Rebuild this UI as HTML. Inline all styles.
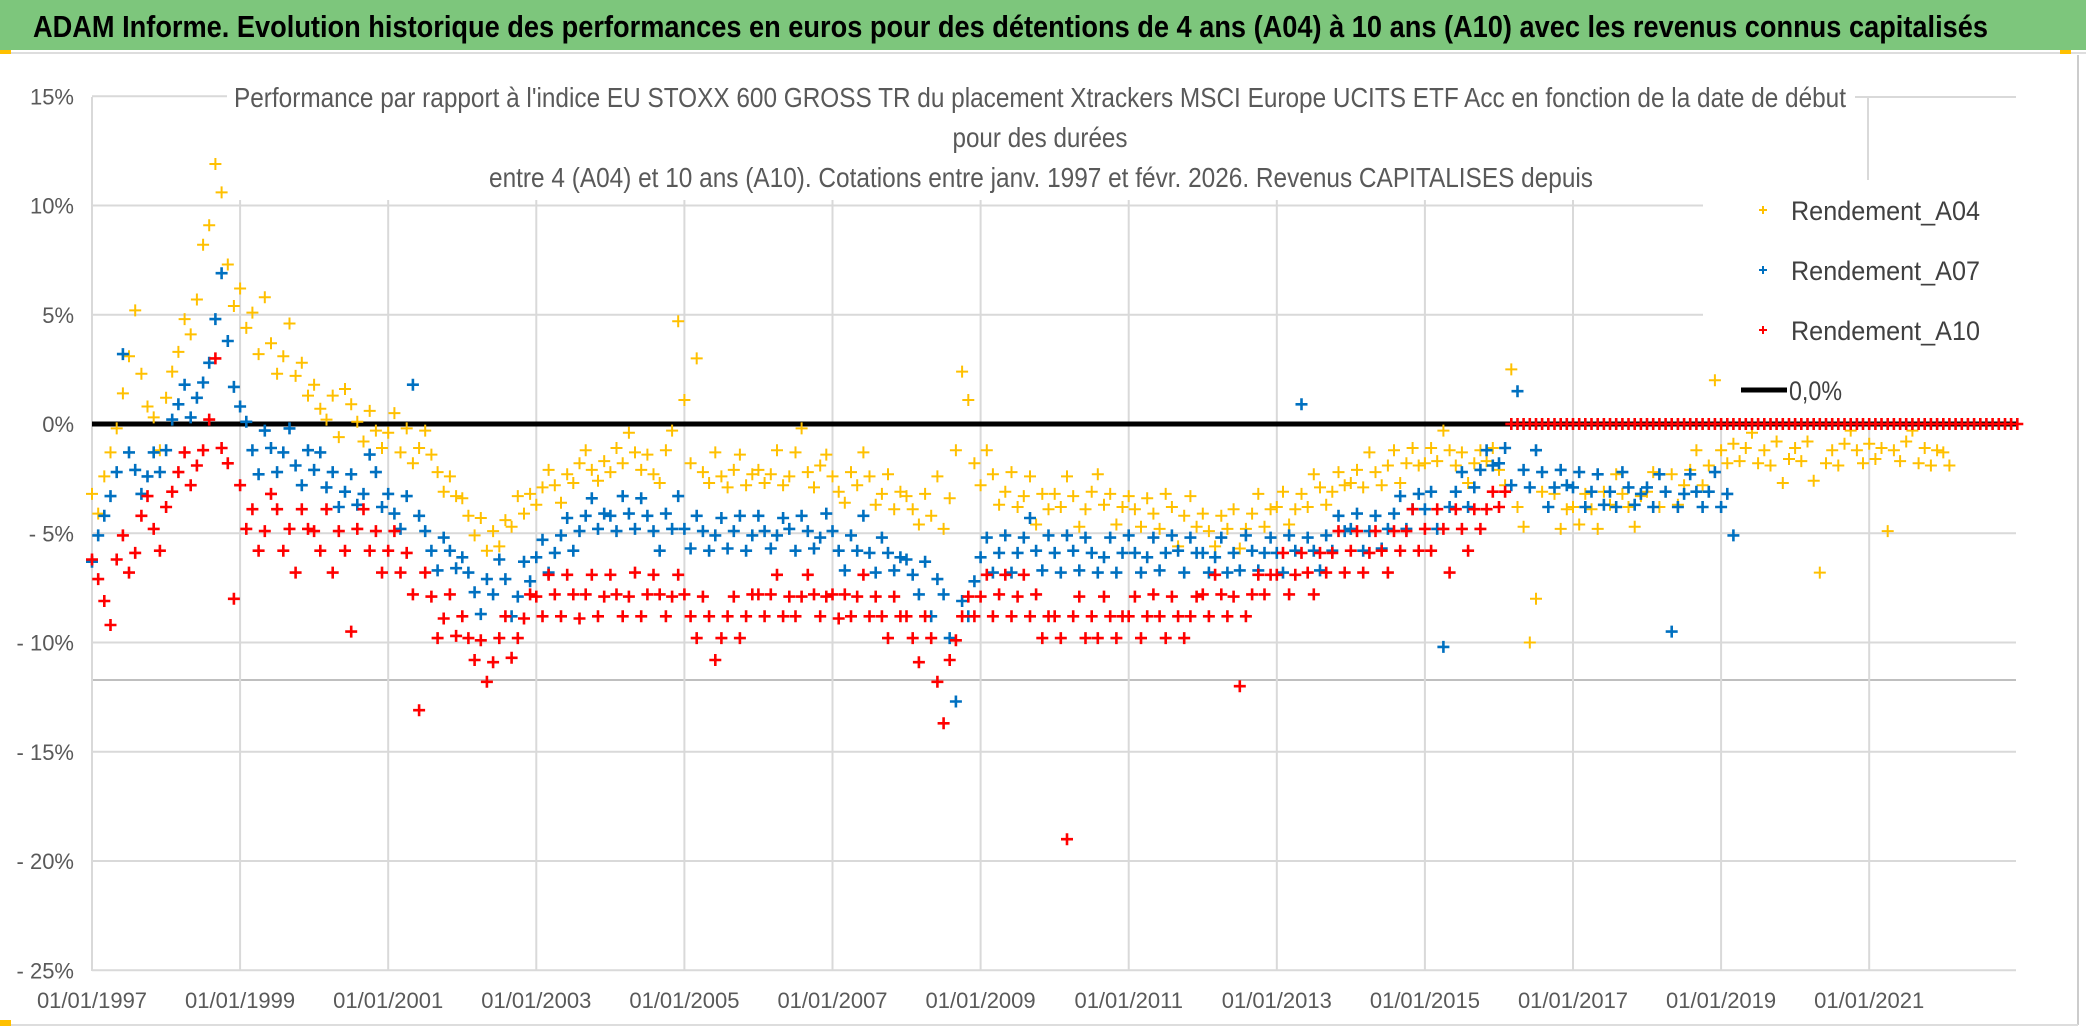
<!DOCTYPE html>
<html><head><meta charset="utf-8">
<style>
html,body{margin:0;padding:0;background:#fff;}
body{width:2086px;height:1031px;overflow:hidden;position:relative;font-family:"Liberation Sans Narrow","Liberation Sans",sans-serif;}
</style></head>
<body>
<svg id="chart" width="2086" height="1031" viewBox="0 0 2086 1031" xmlns="http://www.w3.org/2000/svg" style="position:absolute;left:0;top:0">
  <rect x="0" y="0" width="2086" height="1031" fill="#fff"/>
  <rect x="0" y="0" width="2086" height="50" fill="#7dc67c"/>
  <line x1="0" y1="53" x2="2086" y2="53" stroke="#ddd" stroke-width="2"/>
  <rect x="0" y="50" width="11" height="4" fill="#ffc000"/>
  <rect x="2060" y="50" width="11" height="4" fill="#ffc000"/>
  <text x="33" y="37" font-size="31" font-weight="bold" fill="#000" textLength="1955" lengthAdjust="spacingAndGlyphs">ADAM Informe. Evolution historique des performances en euros pour des détentions de 4 ans (A04) à 10 ans (A10) avec les revenus connus capitalisés</text>
  <line x1="2078" y1="55" x2="2078" y2="1025" stroke="#ccc" stroke-width="2"/>
  <line x1="0" y1="1025" x2="2078" y2="1025" stroke="#ddd" stroke-width="2"/>
  <rect x="0" y="1020" width="11" height="6" fill="#ffc000"/>
  <g id="grid"></g>
  <g id="marks"></g>
  <g id="title-group" fill="#595959" font-size="28" text-anchor="middle">
    <text x="1040" y="107" textLength="1612" lengthAdjust="spacingAndGlyphs">Performance par rapport à l'indice EU STOXX 600 GROSS TR  du placement Xtrackers MSCI Europe UCITS ETF Acc en fonction de la date de début</text>
    <text x="1040" y="147" textLength="175" lengthAdjust="spacingAndGlyphs">pour des durées</text>
    <text x="1041" y="187" textLength="1104" lengthAdjust="spacingAndGlyphs">entre 4 (A04) et 10 ans (A10). Cotations entre janv. 1997 et févr. 2026. Revenus CAPITALISES depuis</text>
  </g>
  <g id="legend"></g>
</svg>
<script>
const xTickLabels = ["01/01/1997","01/01/1999","01/01/2001","01/01/2003","01/01/2005","01/01/2007","01/01/2009","01/01/2011","01/01/2013","01/01/2015","01/01/2017","01/01/2019","01/01/2021"];
const xTickYears = [1997,1999,2001,2003,2005,2007,2009,2011,2013,2015,2017,2019,2021];
const yTicks = [15,10,5,0,-5,-10,-15,-20,-25];
const yTickLabels = ["15%","10%","5%","0%","- 5%","- 10%","- 15%","- 20%","- 25%"];
const startYear = 1997; // monthly series starting Jan 1997
const seriesNames = ["Rendement_A04","Rendement_A07","Rendement_A10"];
const rendementA04 = [
-3.2,-4.1,-2.4,-1.3,-0.2,1.4,3.1,5.2,2.3,0.8,0.3,-1.2,
1.2,2.4,3.3,4.8,4.1,5.7,8.2,9.1,11.9,10.6,7.3,5.4,
6.2,4.4,5.1,3.2,5.8,3.7,2.3,3.1,4.6,2.2,2.8,1.3,
1.8,0.7,0.2,1.3,-0.6,1.6,0.9,0.1,-0.8,0.6,-0.3,-1.1,
-0.4,0.5,-1.3,-0.2,-1.8,-1.1,-0.3,-1.4,-2.2,-3.1,-2.4,-3.3,
-3.4,-4.2,-5.1,-4.3,-5.8,-4.9,-5.6,-4.4,-4.7,-3.3,-4.1,-3.2,
-3.7,-2.9,-2.1,-2.8,-3.6,-2.3,-2.7,-1.8,-1.2,-2.1,-2.6,-1.7,
-2.2,-1.1,-1.8,-0.4,-1.3,-2.1,-1.4,-2.3,-2.7,-1.2,-0.3,4.7,
1.1,-1.8,3.0,-2.2,-2.7,-1.3,-2.4,-2.9,-2.1,-1.4,-2.8,-2.3,
-2.1,-2.7,-2.3,-1.2,-2.8,-2.4,-1.3,-0.2,-2.2,-2.9,-1.9,-1.4,
-2.4,-3.1,-3.6,-2.2,-2.8,-1.3,-2.4,-3.7,-3.2,-2.3,-3.9,-3.1,
-3.3,-3.9,-4.6,-3.2,-4.2,-2.4,-4.8,-3.4,-1.2,2.4,1.1,-1.8,
-2.8,-1.2,-2.3,-3.7,-3.1,-2.2,-3.8,-3.3,-2.4,-4.6,-3.2,-3.9,
-3.2,-3.8,-2.4,-3.3,-4.7,-3.9,-3.1,-2.3,-3.7,-3.2,-4.6,-3.8,
-3.3,-3.9,-4.7,-3.4,-4.1,-4.8,-3.2,-3.8,-5.6,-4.2,-3.3,-4.7,
-4.1,-4.9,-5.6,-4.2,-4.8,-3.9,-5.7,-4.8,-4.1,-3.2,-4.7,-3.9,
-3.8,-3.1,-4.6,-3.9,-3.2,-3.8,-2.3,-2.9,-3.7,-3.1,-2.2,-2.8,
-2.7,-2.1,-2.9,-1.3,-2.2,-2.8,-1.9,-1.2,-2.7,-1.8,-1.1,-1.9,
-1.8,-1.1,-1.7,-0.3,-1.2,-1.9,-1.3,-2.7,-1.8,-1.2,-1.7,-1.1,
-2.1,-2.8,2.5,-3.8,-4.7,-10.0,-8.0,-3.1,-3.8,-3.2,-4.8,-3.9,
-3.8,-4.6,-3.2,-3.9,-4.8,-3.1,-3.7,-2.3,-3.2,-3.8,-4.7,-3.3,
-3.1,-2.2,-3.8,-3.1,-2.3,-3.7,-2.8,-2.1,-1.2,-2.8,-1.9,2.0,
-1.2,-1.8,-0.9,-1.7,-1.1,-0.4,-1.8,-1.2,-1.9,-0.8,-2.7,-1.6,
-1.1,-1.7,-0.8,-2.6,-6.8,-1.8,-1.2,-1.9,-0.9,-0.3,-1.2,-1.8,
-0.9,-1.6,-1.1,-4.9,-1.2,-1.7,-0.8,-0.3,-1.8,-1.1,-1.9,-1.2,
-1.3,-1.9
];
const rendementA07 = [
-6.3,-5.1,-4.2,-3.3,-2.2,3.2,-1.3,-2.1,-3.2,-2.4,-1.3,-2.2,
-1.2,0.2,0.9,1.8,0.3,1.2,1.9,2.8,4.8,6.9,3.8,1.7,
0.8,0.1,-1.2,-2.3,-0.3,-1.1,-2.2,-1.3,-0.2,-1.9,-2.8,-1.2,
-2.1,-1.3,-2.9,-2.2,-3.8,-3.1,-2.3,-3.7,-3.2,-1.4,-2.2,-3.8,
-3.2,-4.1,-4.8,-3.3,1.8,-4.2,-4.9,-5.8,-6.7,-5.2,-5.8,-6.6,
-6.1,-6.8,-7.7,-8.7,-7.1,-7.8,-6.2,-7.1,-8.8,-7.9,-6.3,-7.2,
-6.1,-5.3,-6.8,-5.9,-5.1,-4.3,-5.8,-4.9,-4.2,-3.4,-4.8,-4.1,
-4.2,-4.9,-3.3,-4.1,-4.8,-3.4,-4.2,-4.9,-5.8,-4.1,-4.8,-3.3,
-4.8,-5.7,-4.2,-4.9,-5.8,-5.1,-4.3,-5.7,-4.9,-4.2,-5.8,-5.1,
-4.2,-4.9,-5.7,-5.1,-4.3,-4.8,-5.8,-4.2,-4.9,-5.7,-5.2,-4.1,
-4.9,-5.8,-6.7,-5.1,-5.8,-4.2,-5.9,-6.8,-5.2,-5.9,-6.7,-6.1,
-6.2,-6.9,-7.8,-6.3,-8.8,-7.1,-7.8,-9.8,-12.7,-8.1,-8.8,-7.2,
-6.1,-5.2,-6.8,-5.9,-5.1,-6.8,-5.9,-5.2,-4.3,-5.8,-6.7,-5.1,
-5.9,-6.8,-5.1,-5.8,-6.7,-5.2,-5.9,-6.8,-6.1,-5.2,-6.8,-5.9,
-5.1,-5.9,-6.8,-6.1,-5.2,-6.7,-5.9,-5.1,-5.8,-6.8,-5.2,-5.9,
-5.9,-6.8,-6.1,-5.2,-6.8,-5.9,-6.7,-5.1,-5.8,-6.7,-5.9,-5.2,
-5.9,-6.8,-5.1,-5.8,0.9,-5.2,-5.8,-6.7,-5.1,-5.8,-4.2,-4.9,
-4.8,-4.1,-5.8,-4.9,-4.2,-5.7,-4.8,-4.1,-3.3,-4.8,-3.9,-3.2,
-3.9,-3.1,-4.8,-10.2,-3.8,-3.1,-2.2,-3.8,-2.9,-2.1,-1.2,-1.9,
-1.8,-1.1,-2.8,1.5,-2.1,-2.9,-1.2,-2.2,-3.8,-2.9,-2.1,-2.8,
-2.9,-2.2,-3.8,-3.1,-2.3,-3.7,-3.1,-3.8,-2.2,-2.9,-3.7,-3.2,
-2.9,-3.8,-2.3,-3.1,-9.5,-3.8,-3.2,-2.3,-3.1,-3.8,-3.1,-2.2,
-3.8,-3.2,-5.1
];
const rendementA10 = [
-6.2,-7.1,-8.1,-9.2,-6.2,-5.1,-6.8,-5.9,-4.2,-3.3,-4.8,-5.8,
-3.8,-3.1,-2.2,-1.3,-2.8,-1.9,-1.2,0.2,3.0,-1.1,-1.8,-8.0,
-2.8,-4.8,-3.9,-5.8,-4.9,-3.2,-3.9,-5.8,-4.8,-6.8,-3.9,-4.8,
-4.9,-5.8,-3.9,-6.8,-4.9,-5.8,-9.5,-4.8,-3.9,-5.8,-4.9,-6.8,
-5.8,-4.9,-6.8,-5.9,-7.8,-13.1,-6.8,-7.9,-9.8,-8.9,-7.8,-9.7,
-8.8,-9.8,-10.8,-9.9,-11.8,-10.9,-9.8,-8.8,-10.7,-9.8,-8.9,-7.8,
-7.9,-8.8,-6.9,-7.8,-8.8,-6.9,-7.8,-8.9,-7.8,-6.9,-8.8,-7.9,
-6.9,-7.8,-8.8,-7.9,-6.8,-8.8,-7.8,-6.9,-7.8,-8.8,-7.9,-6.9,
-7.8,-8.8,-9.8,-7.9,-8.8,-10.8,-9.8,-8.8,-7.9,-9.8,-8.8,-7.8,
-7.8,-8.8,-7.8,-6.9,-8.8,-7.9,-8.8,-7.9,-6.9,-7.8,-8.8,-7.9,
-7.8,-8.9,-7.8,-8.8,-7.9,-6.9,-8.8,-7.9,-8.8,-9.8,-7.9,-8.8,
-8.8,-9.8,-10.9,-8.8,-9.8,-11.8,-13.7,-10.8,-9.9,-8.8,-7.9,-8.8,
-7.9,-6.9,-8.8,-7.8,-6.9,-8.8,-7.9,-6.9,-8.8,-7.8,-9.8,-8.8,
-8.8,-9.8,-19.0,-8.8,-7.9,-9.8,-8.8,-9.8,-7.9,-8.8,-9.8,-8.8,
-8.8,-7.9,-9.8,-8.8,-7.8,-8.8,-9.8,-7.9,-8.8,-9.8,-8.8,-7.9,
-7.8,-8.8,-6.9,-7.8,-8.8,-7.9,-12.0,-8.8,-7.8,-6.9,-7.8,-6.9,
-6.9,-5.9,-7.8,-6.9,-5.9,-6.8,-7.8,-5.9,-6.8,-5.9,-4.9,-6.8,
-5.8,-4.9,-6.8,-5.9,-4.9,-5.8,-6.8,-4.9,-5.8,-4.9,-3.9,-5.8,
-4.8,-5.8,-3.9,-4.8,-6.8,-3.9,-4.8,-5.8,-3.9,-4.8,-3.9,-3.1,
-3.8,-3.1,0,0,0,0,0,0,0,0,0,0,
0,0,0,0,0,0,0,0,0,0,0,0,
0,0,0,0,0,0,0,0,0,0,0,0,
0,0,0,0,0,0,0,0,0,0,0,0,
0,0,0,0,0,0,0,0,0,0,0,0,
0,0,0,0,0,0,0,0,0,0,0,0,
0,0,0,0,0,0,0,0,0,0,0,0,
0
];
const zeroLineValue = 0;

const NS = "http://www.w3.org/2000/svg";
const PL = 92, PR = 2016, PB = 971;
const xScale = yr => PL + (yr - 1997) * 74.05;
const yScale = v => 424 - v * 21.85;
function mk(tag, attrs, parent){ const e=document.createElementNS(NS,tag); for(const k in attrs) e.setAttribute(k,attrs[k]); parent.appendChild(e); return e; }

const grid = document.getElementById('grid');
const marks = document.getElementById('marks');
const legend = document.getElementById('legend');

yTicks.forEach((t,i)=>{
  const y = yScale(t);
  let x2 = PR;
  if (t === 15) x2 = 227;
  else if (t === 10 || t === 5) x2 = 1703;
  const gl = mk('line',{x1:PL,y1:y,x2:x2,y2:y,stroke:'#d9d9d9','stroke-width':2},grid);
  
  
  const lb = mk('text',{x:74,y:y+8,'text-anchor':'end','font-size':22,fill:'#595959'},grid);
  lb.textContent = yTickLabels[i];
  
  
});
mk('line',{x1:1855,y1:97,x2:2016,y2:97,stroke:'#d9d9d9','stroke-width':2},grid);
mk('line',{x1:1868,y1:97,x2:1868,y2:180,stroke:'#d9d9d9','stroke-width':2},grid);
const extra = mk('line',{x1:PL,y1:680,x2:PR,y2:680,stroke:'#bfbfbf','stroke-width':2},grid);


xTickYears.forEach((yr,i)=>{
  const x = xScale(yr);
  if (i>0){
    const vl = mk('line',{x1:x,y1:(x>1703?420:200),x2:x,y2:PB,stroke:'#d9d9d9','stroke-width':2},grid);
    
    
  }
  const lb = mk('text',{x:x,y:1008,'text-anchor':'middle','font-size':22,fill:'#595959'},grid);
  lb.textContent = xTickLabels[i];
  
  
});
mk('line',{x1:PL,y1:97,x2:PL,y2:PB,stroke:'#d9d9d9','stroke-width':2},grid);

const zl = mk('line',{x1:PL,y1:yScale(zeroLineValue),x2:PR,y2:yScale(zeroLineValue),stroke:'#000','stroke-width':5},marks);



function drawSeries(values, color, sw, size, name){
  const g = mk('g',{},marks);
  
  
  let d = '';
  values.forEach((v,i)=>{
    const x = xScale(startYear + i/12), y = yScale(v);
    d += `M${(x-size).toFixed(1)} ${y.toFixed(1)}h${2*size}M${x.toFixed(1)} ${(y-size).toFixed(1)}v${2*size}`;
  });
  const p = mk('path',{d:d,stroke:color,'stroke-width':sw,fill:'none'},g);
  
  
}
drawSeries(rendementA04,'#ffc000',2,6,'series-a04');
drawSeries(rendementA07,'#0070c0',2.6,6,'series-a07');
drawSeries(rendementA10,'#ff0000',2.6,6,'series-a10');

const legendColors = ['#ffc000','#0070c0','#ff0000'];
const legendY = [210,270,330];
seriesNames.forEach((n,i)=>{
  const m = mk('path',{d:`M${1763-4} ${legendY[i]}h8M1763 ${legendY[i]-4}v8`,stroke:legendColors[i],'stroke-width':2},legend);
  
  
  const t = mk('text',{x:1791,y:legendY[i]+10,'font-size':27,fill:'#404040',textLength:189,lengthAdjust:'spacingAndGlyphs'},legend);
  t.textContent = n;
  
  
});
const lz = mk('line',{x1:1741,y1:390,x2:1787,y2:390,stroke:'#000','stroke-width':5},legend);


const lzt = mk('text',{x:1789,y:400,'font-size':27,fill:'#404040',textLength:53,lengthAdjust:'spacingAndGlyphs'},legend);
lzt.textContent = '0,0%';


</script>
</body></html>
